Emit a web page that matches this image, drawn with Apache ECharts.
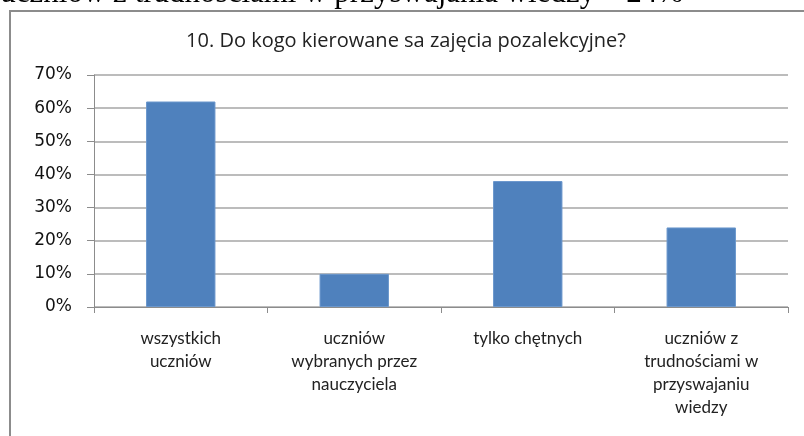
<!DOCTYPE html>
<html>
<head>
<meta charset="utf-8">
<script src="https://cdn.jsdelivr.net/npm/echarts@6/dist/echarts.min.js"></script>
<style>
  html, body { margin: 0; padding: 0; background: #fff; }
  #myChart { width: 804px; height: 436px; }
</style>
</head>
<body>
<div id="myChart"></div>
<script>
// dane z wykresu
var categories = [
  'wszystkich\nuczniów',
  'uczniów\nwybranych przez\nnauczyciela',
  'tylko chętnych',
  'uczniów z\ntrudnościami w\nprzyswajaniu\nwiedzy'
]
var values = [62, 10, 38, 24]
var yTicks = [0, 10, 20, 30, 40, 50, 60, 70]
var chartTitle = '10. Do kogo kierowane sa zajęcia pozalekcyjne?'
var textAbove = 'uczniów z trudnościami w przyswajania wiedzy – 24%'

var myChart = echarts.init(document.getElementById('myChart'), null, { renderer: 'canvas' })

myChart.setOption({
  animation: false,
  backgroundColor: '#fff',
  grid: {
    left: 94,
    right: 16,
    top: 75,
    bottom: 129,
    containLabel: false
  },
  graphic: [
    // ramka wykresu
    {
      type: 'rect',
      shape: { x: 10, y: 11, width: 900, height: 500 },
      style: { fill: 'none', stroke: '#8c8c8c', lineWidth: 2 }
    },
    // tekst z dokumentu nad wykresem (ucięty u góry)
    {
      type: 'text',
      x: 683,
      y: -6,
      style: {
        text: textAbove,
        font: '31px "Liberation Serif", "DejaVu Serif", serif',
        fill: '#000',
        align: 'right',
        verticalAlign: 'middle'
      }
    },
    {
      type: 'text',
      x: 406,
      y: 41,
      style: {
        text: chartTitle,
        font: '20px "Open Sans", Lato, sans-serif',
        fill: '#222',
        align: 'center',
        verticalAlign: 'middle'
      }
    }
  ],
  xAxis: {
    type: 'category',
    data: categories,
    axisLine: { lineStyle: { color: '#8c8c8c', width: 1 } },
    axisTick: { show: true, length: 6, alignWithLabel: false, lineStyle: { color: '#8c8c8c' } },
    axisLabel: {
      interval: 0,
      margin: 20,
      color: '#222',
      fontFamily: 'Lato',
      fontSize: 17,
      lineHeight: 23,
      align: 'center'
    }
  },
  yAxis: {
    type: 'value',
    min: yTicks[0],
    max: yTicks[yTicks.length - 1],
    interval: 10,
    axisLine: { show: true, lineStyle: { color: '#8c8c8c', width: 1 } },
    axisTick: { show: true, length: 7, lineStyle: { color: '#8c8c8c' } },
    splitLine: { show: true, lineStyle: { color: '#a6a6a6', width: 1.5 } },
    axisLabel: {
      margin: 22,
      color: '#111',
      fontFamily: 'DejaVu Sans',
      fontSize: 17,
      formatter: '{value}%'
    }
  },
  series: [
    {
      type: 'bar',
      data: values,
      barWidth: '40%',
      itemStyle: {
        color: '#4f81bd',
        borderColor: '#6b97cc',
        borderWidth: 1
      }
    }
  ]
})
</script>
</body>
</html>
